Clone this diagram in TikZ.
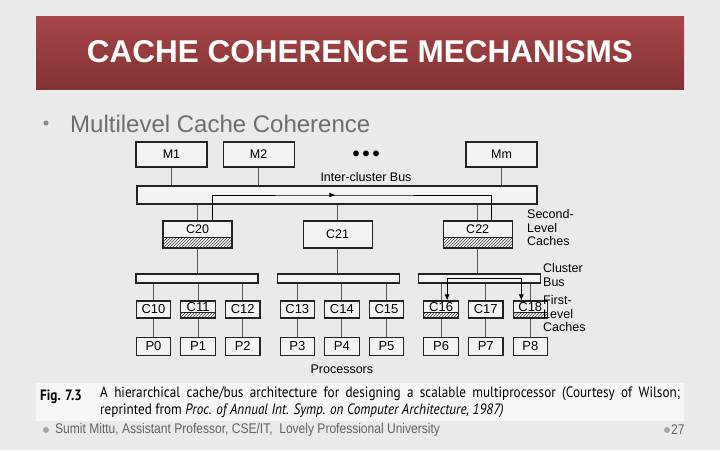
\documentclass[tikz,border=0pt]{standalone}
\usepackage{fontspec}
\setmainfont{Liberation Sans}
\newfontfamily\captionfont[FakeStretch=0.88]{PT Sans}
\newfontfamily\footerfont[FakeStretch=0.86]{Liberation Sans}
\usetikzlibrary{arrows.meta,positioning,patterns,decorations.markings}
\definecolor{slidebg}{RGB}{234,234,234}
\definecolor{bannertop}{RGB}{168,70,72}
\definecolor{bannerbot}{RGB}{130,50,52}
\definecolor{topicgray}{RGB}{110,110,110}
\definecolor{linegray}{RGB}{35,35,35}
\newcommand{\px}[1]{\fontsize{#1}{\dimexpr #1pt*11/10\relax}\selectfont}
\tikzset{
    unitbox/.style={draw=linegray, line width=1.1pt, fill=white!45!slidebg, inner sep=0pt, align=center, font=\px{12.5}},
    memblock/.style={unitbox, minimum width=71pt, minimum height=25pt},
    l2block/.style={unitbox, minimum width=69pt, minimum height=27pt},
    l1block/.style={unitbox, minimum width=34.5pt, minimum height=17pt, font=\px{13}},
    procblock/.style={unitbox, minimum width=34.5pt, minimum height=18pt, font=\px{13}},
    interbar/.style={unitbox, minimum width=400pt, minimum height=18pt},
    clusterbar/.style={unitbox, minimum width=122pt, minimum height=9pt},
    hatched/.style={text depth=#1, path picture={\draw[line width=0.8pt, pattern=north east lines, pattern color=black!75] (path picture bounding box.south west) rectangle ([yshift=#1]path picture bounding box.south east);}},
    wire/.style={draw=black!65, line width=0.9pt},
    flowarrow/.style={draw=black, line width=0.8pt},
    sidenote/.style={align=left, font=\px{12.5}, inner sep=0pt, anchor=north west}
}

\begin{document}
\begin{tikzpicture}[x=1pt, y=-1pt, node distance=9pt and 9pt]
    % slide and banner
    \fill[slidebg] (0,0) rectangle (720,450);
    \useasboundingbox (0,0) rectangle (720,450);
    \shade[top color=bannertop, bottom color=bannerbot] (36,16) rectangle (684,89);
    \node[font=\bfseries\px{31.5}, text=white] (title) at (360,52) {CACHE COHERENCE MECHANISMS};
    \node[circle, fill=topicgray!80, inner sep=0pt, minimum size=5pt] (topicdot) at (46,123) {};
    \node[font=\px{24}, text=topicgray, anchor=west, inner sep=0pt] (topic) at (70,124) {Multilevel Cache Coherence};

    % memories and inter-cluster bus
    \node[memblock] (m1) at (171.5,154.5) {M1};
    \node[memblock, right=15pt of m1] (m2) {M2};
    \node[memblock] (mm) at (501.5,154.5) {Mm};
    \node[font=\bfseries\px{20}] (dots) at (366,156) {•\hspace{3pt}•\hspace{3pt}•};
    \node[interbar] (ibus) at (337,195) {};
    \node[font=\px{12.5}] (ibuslabel) at (366,177) {Inter-cluster Bus};
    \draw[wire] (m1) -- (m1 |- ibus.north);
    \draw[wire] (m2) -- (m2 |- ibus.north);
    \draw[wire] (mm) -- (mm |- ibus.north);

    % second-level caches
    \node[l2block, hatched=11pt] (c20) at (197.5,234.5) {C20};
    \node[l2block, right=70pt of c20] (c21) {C21};
    \node[l2block, hatched=11pt, right=70pt of c21] (c22) {C22};
    \node[sidenote] (l2note) at (527,209) {Second-\\Level\\Caches};
    \draw[wire] (c20) -- (c20 |- ibus.south);
    \draw[wire] (c21) -- (c21 |- ibus.south);
    \draw[wire] (c22) -- (c22 |- ibus.south);
    \draw[flowarrow, decoration={markings, mark=at position 0.45 with {\arrow{Latex[length=6pt,width=5pt]}}}, postaction={decorate}]
        ([xshift=15pt]c20.north) |- (ibus.center) -| ([xshift=13.5pt]c22.north);

    % cluster buses
    \node[clusterbar] (cbus1) at (197,278.5) {};
    \node[clusterbar, right=18pt of cbus1] (cbus2) {};
    \node[clusterbar, right=18pt of cbus2] (cbus3) {};
    \node[sidenote] (busnote) at (543,263) {Cluster\\Bus};
    \draw[wire] (c20) -- (c20 |- cbus1.north);
    \draw[wire] (c21) -- (c21 |- cbus2.north);
    \draw[wire] (c22) -- (c22 |- cbus3.north);

    % first-level caches
    \node[l1block] (c10) at (153.5,309.5) {C10};
    \node[l1block, hatched=6pt, right=of c10] (c11) {C11};
    \node[l1block, right=of c11] (c12) {C12};
    \node[l1block, right=19pt of c12] (c13) {C13};
    \node[l1block, right=of c13] (c14) {C14};
    \node[l1block, right=of c14] (c15) {C15};
    \node[l1block, hatched=6pt, right=19pt of c15] (c16) {C16};
    \node[l1block, right=of c16] (c17) {C17};
    \node[l1block, hatched=6pt, right=of c17] (c18) {C18};
    \node[sidenote] (l1note) at (543,295) {First-\\Level\\Caches};
    \draw[wire] (c10) -- (c10 |- cbus1.south);
    \draw[wire] (c11) -- (c11 |- cbus1.south);
    \draw[wire] (c12) -- (c12 |- cbus1.south);
    \draw[wire] (c13) -- (c13 |- cbus2.south);
    \draw[wire] (c14) -- (c14 |- cbus2.south);
    \draw[wire] (c15) -- (c15 |- cbus2.south);
    \draw[wire] (c16) -- (c16 |- cbus3.south);
    \draw[wire] (c17) -- (c17 |- cbus3.south);
    \draw[wire] (c18) -- (c18 |- cbus3.south);
    \draw[flowarrow, {Latex[length=6pt,width=5pt]}-{Latex[length=6pt,width=5pt]}]
        ([xshift=6pt]c16.north) |- (cbus3.center) -| ([xshift=-9pt]c18.north);

    % processors
    \node[procblock, below=18pt of c10] (p0) {P0};
    \node[procblock, below=18pt of c11] (p1) {P1};
    \node[procblock, below=18pt of c12] (p2) {P2};
    \node[procblock, below=18pt of c13] (p3) {P3};
    \node[procblock, below=18pt of c14] (p4) {P4};
    \node[procblock, below=18pt of c15] (p5) {P5};
    \node[procblock, below=18pt of c16] (p6) {P6};
    \node[procblock, below=18pt of c17] (p7) {P7};
    \node[procblock, below=18pt of c18] (p8) {P8};
    \node[font=\px{12.5}, inner sep=0pt, below=9pt of p4] (procnote) {Processors};
    \draw[wire] (c10) -- (p0);
    \draw[wire] (c11) -- (p1);
    \draw[wire] (c12) -- (p2);
    \draw[wire] (c13) -- (p3);
    \draw[wire] (c14) -- (p4);
    \draw[wire] (c15) -- (p5);
    \draw[wire] (c16) -- (p6);
    \draw[wire] (c17) -- (p7);
    \draw[wire] (c18) -- (p8);

    % caption and footer
    \fill[white!55!slidebg] (36,383) rectangle (684,421);
    \node[font=\captionfont\bfseries\px{15}, anchor=base west, inner sep=0pt] (figno) at (40,400) {Fig. 7.3};
    \node[font=\captionfont\px{15}, anchor=north west, text width=580pt, align=justify, inner sep=0pt] (figtext) at (100,387)
        {A hierarchical cache/bus architecture for designing a scalable multiprocessor (Courtesy of Wilson;\linebreak
        reprinted from \textit{Proc. of Annual Int. Symp. on Computer Architecture, 1987)}};
    \node[circle, fill=black!35, inner sep=0pt, minimum size=6pt] (footdot) at (46,430) {};
    \node[font=\footerfont\px{14}, text=black!62, anchor=west, inner sep=0pt] (footer) at (55,430)
        {Sumit Mittu, Assistant Professor, CSE/IT,\ \ Lovely Professional University};
    \node[circle, fill=black!35, inner sep=0pt, minimum size=6pt] (pagedot) at (667,430) {};
    \node[font=\footerfont\px{14}, text=black!62, anchor=west, inner sep=0pt] (pageno) at (671,430) {27};
\end{tikzpicture}
\end{document}
